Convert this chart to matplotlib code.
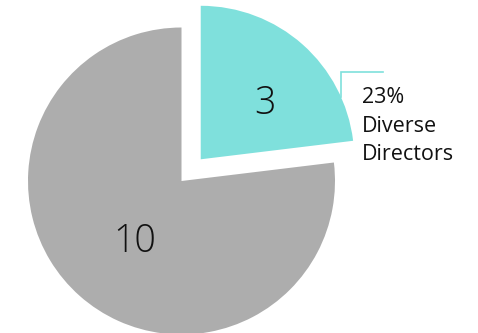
import numpy as np
import matplotlib
matplotlib.use("Agg")
import matplotlib.pyplot as plt

# board composition
counts = [3, 10]
names = ["Diverse Directors", "Other Directors"]
colors = ["#7fe0dc", "#adadad"]
share_label = "23%\nDiverse\nDirectors"

W, H = 478, 333
fig = plt.figure(figsize=(W / 100, H / 100), dpi=100)
ax = fig.add_axes([0, 0, 1, 1])

center = (181.5, 152)
radius = 153.5
# explode is in data units here, since the axes are in pixels
wedges, _ = ax.pie(counts, colors=colors, startangle=90, counterclock=False,
                   explode=[29, 0], center=center, radius=radius,
                   wedgeprops=dict(linewidth=0), frame=True)
ax.axis("off")
ax.set_xlim(0, W)
ax.set_ylim(0, H)
ax.set_aspect("equal")

# value labels inside each wedge
label_xy = [(265, 234), (135, 96)]
for (x, y), n in zip(label_xy, counts):
    ax.text(x, y, str(n), ha="center", va="center_baseline", fontsize=27,
            color="#111111", family=["Open Sans", "DejaVu Sans"],
            fontweight="light")

# leader line from the teal wedge to its caption
tw = wedges[0]
lx = 341
cx, cy = tw.center
y0 = cy + np.sqrt(tw.r ** 2 - (lx - cx) ** 2)
ax.plot([lx, lx, 383], [y0, 261, 261], color=colors[0], lw=1.2,
        solid_joinstyle="miter")

ax.text(362, 207, share_label, ha="left", va="center", fontsize=15.5,
        color="#111111", family=["Open Sans", "DejaVu Sans"], linespacing=1.45)

fig.savefig("out.png", dpi=100)
